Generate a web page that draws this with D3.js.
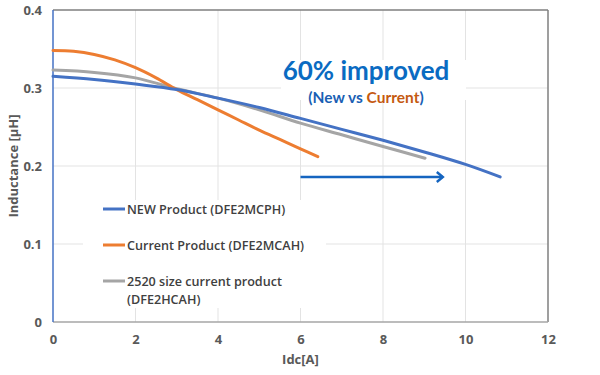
<!DOCTYPE html>
<html>
<head>
<meta charset="utf-8">
<script src="https://cdn.jsdelivr.net/npm/d3@7"></script>
<style>
  body { margin: 0; background: #fff; }
  text { font-family: "Open Sans", sans-serif; }
</style>
</head>
<body>
<div class="canvas"></div>
<script>
// Data (Idc in A, inductance in uH)
const newX = [0, 1, 2, 3, 4, 5, 6, 7, 8, 9, 10, 10.84];
const newL = [0.315, 0.311, 0.305, 0.298, 0.287, 0.275, 0.261, 0.247, 0.233, 0.218, 0.202, 0.186];

const curX = [0, 0.5, 1, 1.5, 2, 2.5, 3, 3.5, 4, 4.5, 5, 5.5, 6, 6.42];
const curL = [0.348, 0.347, 0.343, 0.336, 0.326, 0.313, 0.298, 0.285, 0.272, 0.259, 0.246, 0.234, 0.222, 0.212];

const oldX = [0, 1, 2, 3, 4, 5, 6, 7, 8, 9.02];
const oldL = [0.323, 0.320, 0.313, 0.299, 0.287, 0.272, 0.255, 0.240, 0.225, 0.210];

const seriesNames = ['NEW Product (DFE2MCPH)', 'Current Product (DFE2MCAH)', '2520 size current product|(DFE2HCAH)'];
const seriesColors = ['#4472c4', '#ed7d31', '#a5a5a5'];

const xTicks = [0, 2, 4, 6, 8, 10, 12];
const yTicks = [0, 0.1, 0.2, 0.3, 0.4];

const arrowFrom = 6, arrowTo = 9.45, arrowAt = 0.186;

const svg = d3.select('.canvas')
  .append('svg')
  .attr('width', 600)
  .attr('height', 375);

const margin = {top: 10, right: 52, bottom: 53, left: 53};
const graphWidth = 600 - margin.left - margin.right;
const graphHeight = 375 - margin.top - margin.bottom;

const graph = svg.append('g')
  .attr('transform', `translate(${margin.left}, ${margin.top})`);

const x = d3.scaleLinear().domain([0, 12]).range([0, graphWidth]);
const y = d3.scaleLinear().domain([0, 0.4]).range([graphHeight, 0]);

// gridlines
graph.append('g')
  .selectAll('line.v')
  .data(xTicks.slice(1, -1))
  .enter().append('line')
  .attr('x1', d => x(d)).attr('x2', d => x(d))
  .attr('y1', 0).attr('y2', graphHeight)
  .attr('stroke', '#e3e3e3').attr('stroke-width', 1);
graph.append('g')
  .selectAll('line.h')
  .data(yTicks.slice(1, -1))
  .enter().append('line')
  .attr('x1', 0).attr('x2', graphWidth)
  .attr('y1', d => y(d)).attr('y2', d => y(d))
  .attr('stroke', '#e3e3e3').attr('stroke-width', 1);

// frame
graph.append('line').attr('x1', 0).attr('x2', graphWidth).attr('y1', 0).attr('y2', 0)
  .attr('stroke', '#7f7f7f').attr('stroke-width', 1.5);
graph.append('line').attr('x1', graphWidth).attr('x2', graphWidth).attr('y1', 0).attr('y2', graphHeight)
  .attr('stroke', '#7f7f7f').attr('stroke-width', 1.5);
graph.append('line').attr('x1', 0).attr('x2', graphWidth).attr('y1', graphHeight).attr('y2', graphHeight)
  .attr('stroke', '#a6a6a6').attr('stroke-width', 1.5);

// text box and legend box hide the grid behind them
graph.append('rect').attr('x', 228).attr('y', 50).attr('width', 185).attr('height', 40).attr('fill', '#fff');
graph.append('rect').attr('x', 30).attr('y', 190).attr('width', 243).attr('height', 108).attr('fill', '#fff');

// axes
const xAxis = d3.axisBottom(x).tickValues(xTicks).tickSize(0).tickPadding(13).tickFormat(d3.format('d'));
const yAxis = d3.axisLeft(y).tickValues(yTicks).tickSize(0).tickPadding(11).tickFormat(d => d === 0 ? '0' : d3.format('.1f')(d));

const xAxisGroup = graph.append('g').attr('transform', `translate(0, ${graphHeight})`).call(xAxis);
const yAxisGroup = graph.append('g').call(yAxis);

[xAxisGroup, yAxisGroup].forEach(g => {
  g.select('.domain').remove();
  g.selectAll('text')
    .attr('fill', '#595959')
    .style('font-size', '13px')
    .style('font-weight', 700);
});

// left axis line (blue)
graph.append('line').attr('x1', 0).attr('x2', 0).attr('y1', 0).attr('y2', graphHeight)
  .attr('stroke', '#4472c4').attr('stroke-width', 1.5);

// axis titles
svg.append('text')
  .attr('x', margin.left + graphWidth / 2).attr('y', 364)
  .attr('text-anchor', 'middle')
  .attr('fill', '#595959')
  .style('font-size', '13px').style('font-weight', 700)
  .text('Idc[A]');
svg.append('text')
  .attr('transform', `translate(18, ${margin.top + graphHeight / 2}) rotate(-90)`)
  .attr('text-anchor', 'middle')
  .attr('fill', '#595959')
  .style('font-size', '13px').style('font-weight', 700)
  .text('Inductance [μH]');

// lines
const line = d3.line()
  .x(d => x(d[0]))
  .y(d => y(d[1]))
  .curve(d3.curveCatmullRom.alpha(0.5));

const series = [
  d3.zip(newX, newL),
  d3.zip(curX, curL),
  d3.zip(oldX, oldL)
];

// draw order: gray, orange, blue on top
[2, 1, 0].forEach(i => {
  graph.append('path')
    .datum(series[i])
    .attr('d', line)
    .attr('fill', 'none')
    .attr('stroke', seriesColors[i])
    .attr('stroke-width', 3)
    .attr('stroke-linecap', 'round');
});

// arrow
graph.append('line')
  .attr('x1', x(arrowFrom)).attr('x2', x(arrowTo))
  .attr('y1', y(arrowAt)).attr('y2', y(arrowAt))
  .attr('stroke', '#1565c0').attr('stroke-width', 2.5);
graph.append('path')
  .attr('d', `M${x(arrowTo) - 6},${y(arrowAt) - 5} L${x(arrowTo)},${y(arrowAt)} L${x(arrowTo) - 6},${y(arrowAt) + 5}`)
  .attr('fill', 'none').attr('stroke', '#1565c0').attr('stroke-width', 2.5);

// annotation
svg.append('text')
  .attr('x', 366).attr('y', 80)
  .attr('text-anchor', 'middle')
  .attr('fill', '#0a6bc2')
  .style('font-family', 'Lato, sans-serif')
  .style('font-size', '26px').style('font-weight', 700)
  .text('60% improved');
const sub = svg.append('text')
  .attr('x', 366).attr('y', 103)
  .attr('text-anchor', 'middle')
  .attr('fill', '#1a5fb4')
  .style('font-family', 'Lato, sans-serif')
  .style('font-size', '15.5px').style('font-weight', 700);
sub.append('tspan').text('(New vs ');
sub.append('tspan').attr('fill', '#c55a11').text('Current');
sub.append('tspan').text(')');

// legend
const legend = svg.append('g');
seriesNames.forEach((name, i) => {
  const cy = 209 + i * 36;
  legend.append('line')
    .attr('x1', 103).attr('x2', 125)
    .attr('y1', cy).attr('y2', cy)
    .attr('stroke', seriesColors[i]).attr('stroke-width', 3);
  name.split('|').forEach((part, j) => {
    legend.append('text')
      .attr('x', 127).attr('y', cy + 4.5 + j * 18)
      .attr('fill', '#404040')
      .style('font-size', '12.6px').style('font-weight', 600)
      .text(part);
  });
});
</script>
</body>
</html>
